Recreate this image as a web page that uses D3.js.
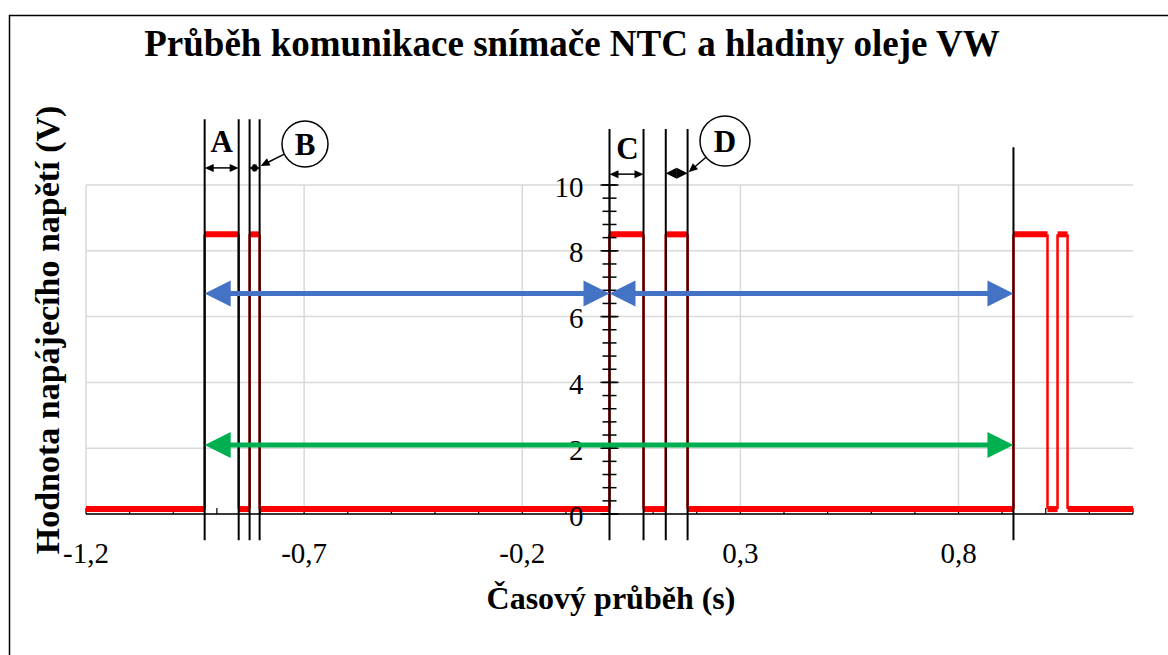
<!DOCTYPE html>
<html>
<head>
<meta charset="utf-8">
<script src="https://cdn.jsdelivr.net/npm/d3@7"></script>
<style>
  html, body { margin: 0; padding: 0; background: #fff; }
  svg { display: block; }
  text { font-family: "Liberation Serif", "Times New Roman", serif; fill: #000; }
</style>
</head>
<body>
<svg id="chart" width="1168" height="655"></svg>
<script>
// --- data -------------------------------------------------------------
// edges of the supply-voltage pulses (s)
const signalTime = [-1.2, -0.928, -0.928, -0.850, -0.850, -0.825, -0.825, -0.802, -0.802,
                    0.0, 0.0, 0.078, 0.078, 0.129, 0.129, 0.179, 0.179,
                    0.926, 0.926, 1.004, 1.004, 1.027, 1.027, 1.050, 1.050, 1.2];
// measured voltage at those edges (V)
const signalVolt = [0.15, 0.15, 8.5, 8.5, 0.15, 0.15, 8.5, 8.5, 0.15,
                    0.15, 8.5, 8.5, 0.15, 0.15, 8.5, 8.5, 0.15,
                    0.15, 8.5, 8.5, 0.15, 0.15, 8.5, 8.5, 0.15, 0.15];
const xTicks = [-1.2, -0.7, -0.2, 0.3, 0.8];
const yTicks = [0, 2, 4, 6, 8, 10];
// marker lines: time (s) and top end (V)
const markerTime = [-0.928, -0.850, -0.825, -0.802, 0.0, 0.078, 0.129, 0.179, 0.926];
const markerTop  = [12.0, 12.0, 12.0, 12.0, 11.7, 11.7, 11.7, 11.7, 11.15];
const markerBottom = -0.8;
// interval dimensions A..D: [start, end, level]
const dimA = [-0.928, -0.850, 10.52];
const dimB = [-0.825, -0.802, 10.52];
const dimC = [0.0, 0.078, 10.33];
const dimD = [0.129, 0.179, 10.36];
// period arrows
const periodBlue = [[-0.928, 0.0, 6.7], [0.0, 0.926, 6.7]];
const periodGreen = [-0.928, 0.926, 2.1];

const titleText = "Průběh komunikace snímače NTC a hladiny oleje VW";
const xTitle = "Časový průběh (s)";
const yTitle = "Hodnota napájecího napětí (V)";

// --- layout -----------------------------------------------------------
const svg = d3.select("#chart");
const x = d3.scaleLinear().domain([-1.2, 1.2]).range([86, 1133]);
const y = d3.scaleLinear().domain([0, 10]).range([514, 185]);
const fmt = v => d3.format(".1f")(v).replace(".", ",").replace("\u2212", "-");

svg.append("rect").attr("width", 1168).attr("height", 655).attr("fill", "#fff");
svg.append("rect").attr("x", 9.5).attr("y", 15.5).attr("width", 1200).attr("height", 700)
  .attr("fill", "none").attr("stroke", "#000").attr("stroke-width", 1.5);

// gridlines
const grid = svg.append("g").attr("stroke", "#d9d9d9").attr("stroke-width", 1.5);
grid.selectAll(".h").data(yTicks).join("line")
  .attr("x1", x(-1.2)).attr("x2", x(1.2)).attr("y1", d => y(d)).attr("y2", d => y(d));
grid.selectAll(".v").data(xTicks).join("line")
  .attr("x1", d => x(d)).attr("x2", d => x(d)).attr("y1", y(0)).attr("y2", y(10));

// x axis line with minor ticks
const xAxisG = svg.append("g").attr("stroke", "#000");
xAxisG.append("line").attr("x1", x(-1.2)).attr("x2", x(1.2)).attr("y1", y(0)).attr("y2", y(0)).attr("stroke-width", 1.5);
xAxisG.selectAll(".mt").data(d3.range(-1.2, 1.2001, 0.1)).join("line")
  .attr("x1", d => x(d)).attr("x2", d => x(d)).attr("y1", y(0)).attr("y2", y(0) - 6).attr("stroke-width", 1.2);

svg.append("g").selectAll("text").data(xTicks).join("text")
  .attr("x", d => x(d)).attr("y", 563).attr("text-anchor", "middle")
  .attr("font-size", 29).text(d => fmt(d));

// red signal: horizontal runs drawn thicker than the edges
const pts = signalTime.map((t, i) => [t, signalVolt[i]]);
const segs = d3.pairs(pts);
const sig = svg.append("g").attr("stroke", "#ff0000").attr("fill", "none");
sig.selectAll("line").data(segs).join("line")
  .attr("x1", d => x(d[0][0])).attr("x2", d => x(d[1][0]))
  .attr("y1", d => y(d[0][1])).attr("y2", d => y(d[1][1]))
  .attr("stroke-width", d => d[0][1] === d[1][1] ? 6 : 2.5);

// y axis at t = 0
const yAx = svg.append("g").attr("stroke", "#000");
yAx.append("line").attr("x1", x(0)).attr("x2", x(0)).attr("y1", y(0)).attr("y2", y(10)).attr("stroke-width", 1.5);
yAx.selectAll(".mn").data(d3.range(0, 10.001, 0.4)).join("line")
  .attr("x1", x(0) - 7).attr("x2", x(0) + 7).attr("y1", d => y(d)).attr("y2", d => y(d)).attr("stroke-width", 1.5);
yAx.selectAll(".mj").data(yTicks).join("line")
  .attr("x1", x(0) - 9).attr("x2", x(0) + 9).attr("y1", d => y(d)).attr("y2", d => y(d)).attr("stroke-width", 1.5);
svg.append("g").selectAll("text").data(yTicks).join("text")
  .attr("x", x(0) - 26).attr("y", d => y(d) + 11.5).attr("text-anchor", "end")
  .attr("font-size", 29).text(d => d);

// black marker lines
svg.append("g").attr("stroke", "#000").attr("stroke-width", 2)
  .selectAll("line").data(markerTime).join("line")
  .attr("x1", d => x(d)).attr("x2", d => x(d))
  .attr("y1", (d, i) => y(markerTop[i])).attr("y2", y(markerBottom));

// arrow helpers
function head(g, tipX, tipY, dir, len, half, color) {
  g.append("path")
    .attr("d", `M${tipX},${tipY}L${tipX - dir * len},${tipY - half}L${tipX - dir * len},${tipY + half}Z`)
    .attr("fill", color).attr("stroke", "none");
}
function dimArrow(g, x1, x2, yy, color, w, len, half) {
  g.append("line").attr("x1", x1 + len * 0.6).attr("x2", x2 - len * 0.6).attr("y1", yy).attr("y2", yy)
    .attr("stroke", color).attr("stroke-width", w);
  head(g, x1, yy, -1, len, half, color);
  head(g, x2, yy, 1, len, half, color);
}

const ann = svg.append("g");
dimArrow(ann, x(dimA[0]), x(dimA[1]), y(dimA[2]), "#000", 1.5, 9, 4);
dimArrow(ann, x(dimB[0]), x(dimB[1]), y(dimB[2]), "#000", 7, 5, 3.5);
dimArrow(ann, x(dimC[0]), x(dimC[1]), y(dimC[2]), "#000", 1.5, 9, 4);
dimArrow(ann, x(dimD[0]), x(dimD[1]), y(dimD[2]), "#000", 1.5, 11, 5.5);
periodBlue.forEach(d => dimArrow(ann, x(d[0]), x(d[1]), y(d[2]), "#4472c4", 5, 26, 13));
dimArrow(ann, x(periodGreen[0]), x(periodGreen[1]), y(periodGreen[2]), "#00b050", 5, 26, 13);

// letter labels
ann.append("text").attr("x", (x(dimA[0]) + x(dimA[1])) / 2).attr("y", 152)
  .attr("text-anchor", "middle").attr("font-size", 31).attr("font-weight", "bold").text("A");
ann.append("text").attr("x", (x(dimC[0]) + x(dimC[1])) / 2 + 1).attr("y", 159)
  .attr("text-anchor", "middle").attr("font-size", 31).attr("font-weight", "bold").text("C");

function callout(cx, cy, r, label, tx, ty) {
  const ang = Math.atan2(ty - cy, tx - cx);
  const sx = cx + r * Math.cos(ang), sy = cy + r * Math.sin(ang);
  ann.append("line").attr("x1", sx).attr("y1", sy).attr("x2", tx - 6 * Math.cos(ang)).attr("y2", ty - 6 * Math.sin(ang))
    .attr("stroke", "#000").attr("stroke-width", 1.5);
  const len = 9, half = 4;
  const bx = tx - len * Math.cos(ang), by = ty - len * Math.sin(ang);
  ann.append("path").attr("d", `M${tx},${ty}L${bx - half * Math.sin(ang)},${by + half * Math.cos(ang)}L${bx + half * Math.sin(ang)},${by - half * Math.cos(ang)}Z`)
    .attr("fill", "#000");
  ann.append("circle").attr("cx", cx).attr("cy", cy).attr("r", r)
    .attr("fill", "#fff").attr("stroke", "#000").attr("stroke-width", 1.5);
  ann.append("text").attr("x", cx).attr("y", cy + 11).attr("text-anchor", "middle")
    .attr("font-size", 31).attr("font-weight", "bold").text(label);
}
callout(305, 144, 23, "B", x(dimB[1]) + 1, y(dimB[2]) - 2);
callout(725, 141, 25, "D", x(dimD[1]) + 1, y(dimD[2]) - 1);

// titles
svg.append("text").attr("x", 572).attr("y", 56).attr("text-anchor", "middle")
  .attr("font-size", 37).attr("font-weight", "bold").text(titleText);
svg.append("text").attr("x", 611).attr("y", 609).attr("text-anchor", "middle")
  .attr("font-size", 32).attr("font-weight", "bold").text(xTitle);
svg.append("text").attr("transform", "translate(59,330) rotate(-90)").attr("text-anchor", "middle")
  .attr("font-size", 34).attr("font-weight", "bold").text(yTitle);
</script>
</body>
</html>
